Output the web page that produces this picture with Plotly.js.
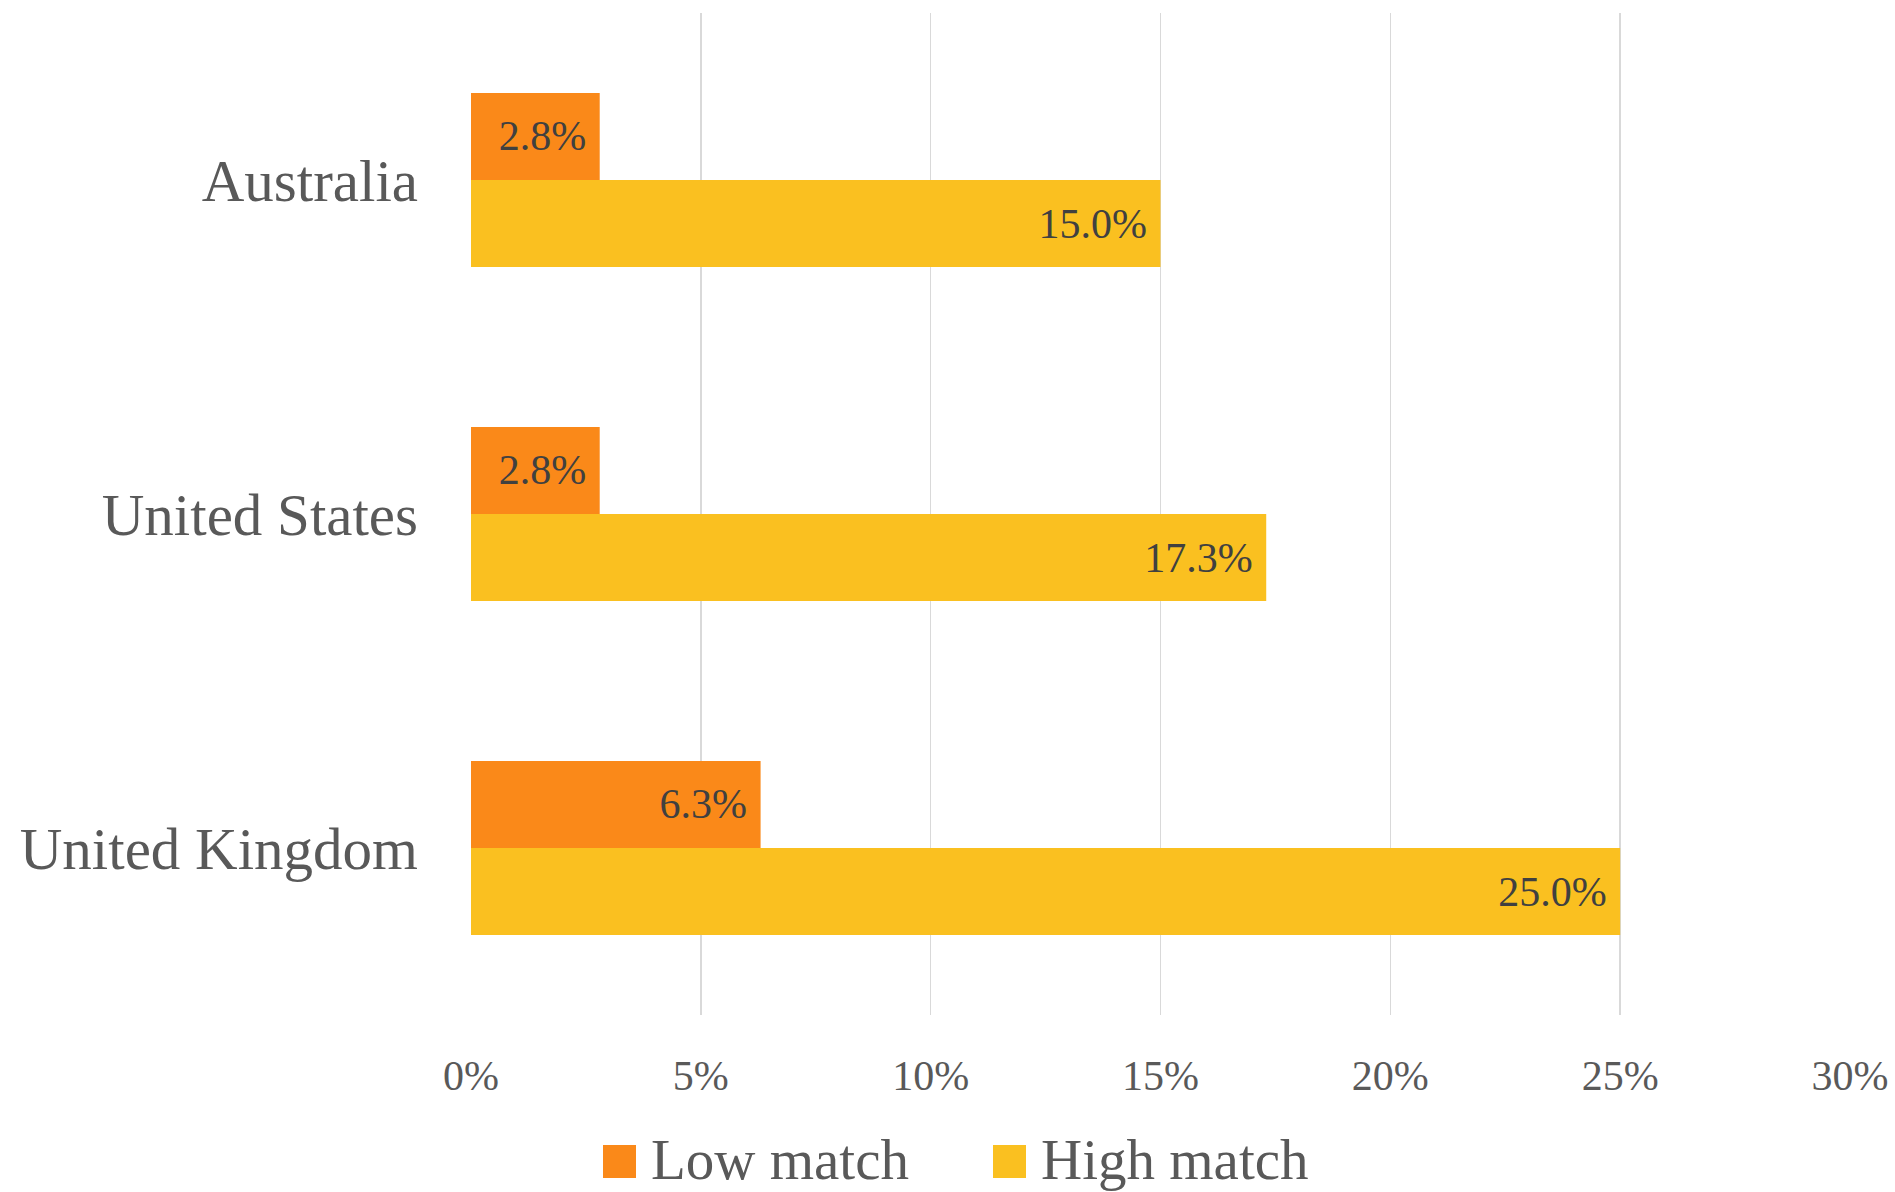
<!DOCTYPE html>
<html>
<head>
<meta charset="utf-8">
<script src="https://cdn.plot.ly/plotly-3.0.1.min.js"></script>
<style>
  html, body { margin: 0; padding: 0; background: #ffffff; }
  #chart { width: 1895px; height: 1192px; }
</style>
</head>
<body>
<div id="chart"></div>
<script>
// ---- Data ----
const countries = ["Australia", "United States", "United Kingdom"];
const seriesNames = ["Low match", "High match"];
const lowMatch = [2.8, 2.8, 6.3];
const highMatch = [15.0, 17.3, 25.0];
const xTickValues = [0, 5, 10, 15, 20, 25, 30];

// ---- Style ----
const colors = ["#FA8919", "#FAC020"];
const FONT = "'Liberation Serif', 'Times New Roman', serif";
const W = 1895, H = 1192;
const M = { l: 471, r: 45, t: 13, b: 177 };
const plotW = W - M.l - M.r, plotH = H - M.t - M.b;
const px2x = px => (px - M.l) / plotW;
const py2y = py => (H - M.b - py) / plotH;

const pad = "\u00a0";
function barTrace(name, vals, color) {
  return {
    type: "bar",
    orientation: "h",
    name: name,
    y: countries,
    x: vals,
    marker: { color: color, line: { width: 0 } },
    text: vals.map(v => v.toFixed(1) + "%" + pad),
    textposition: "inside",
    insidetextanchor: "end",
    constraintext: "none",
    textangle: 0,
    insidetextfont: { family: FONT, size: 42, color: "#404040" },
    hoverinfo: "skip",
    showlegend: false
  };
}

const data = [
  barTrace(seriesNames[0], lowMatch, colors[0]),
  barTrace(seriesNames[1], highMatch, colors[1])
];

// Custom legend (large square swatches as in the reference)
const legendItems = [
  { name: seriesNames[0], color: colors[0], sq: 603 },
  { name: seriesNames[1], color: colors[1], sq: 993 }
];
const shapes = legendItems.map(it => ({
  type: "rect", xref: "paper", yref: "paper",
  x0: px2x(it.sq), x1: px2x(it.sq + 33),
  y0: py2y(1178), y1: py2y(1145),
  fillcolor: it.color, line: { width: 0 }
}));
const annotations = legendItems.map(it => ({
  xref: "paper", yref: "paper",
  x: px2x(it.sq + 47), y: py2y(1159),
  xanchor: "left", yanchor: "middle",
  borderpad: 0,
  text: it.name, showarrow: false,
  font: { family: FONT, size: 57, color: "#595959" }
}));

const layout = {
  width: W, height: H,
  margin: M,
  paper_bgcolor: "#ffffff",
  plot_bgcolor: "#ffffff",
  barmode: "group",
  bargap: 0.479,
  bargroupgap: 0,
  showlegend: false,
  xaxis: {
    range: [0, 30],
    tickvals: xTickValues,
    ticktext: xTickValues.map(v => v + "%"),
    showgrid: true,
    gridcolor: "#D9D9D9",
    gridwidth: 1.5,
    zeroline: false,
    showline: false,
    ticks: "",
    ticklabelstandoff: 32,
    tickfont: { family: FONT, size: 42, color: "#595959" },
    fixedrange: true
  },
  yaxis: {
    autorange: "reversed",
    type: "category",
    showgrid: false,
    zeroline: false,
    showline: false,
    ticks: "",
    ticklabelstandoff: 52,
    tickfont: { family: FONT, size: 59, color: "#595959" },
    fixedrange: true
  },
  shapes: shapes,
  annotations: annotations
};

Plotly.newPlot("chart", data, layout, { displayModeBar: false, staticPlot: true });
</script>
</body>
</html>
